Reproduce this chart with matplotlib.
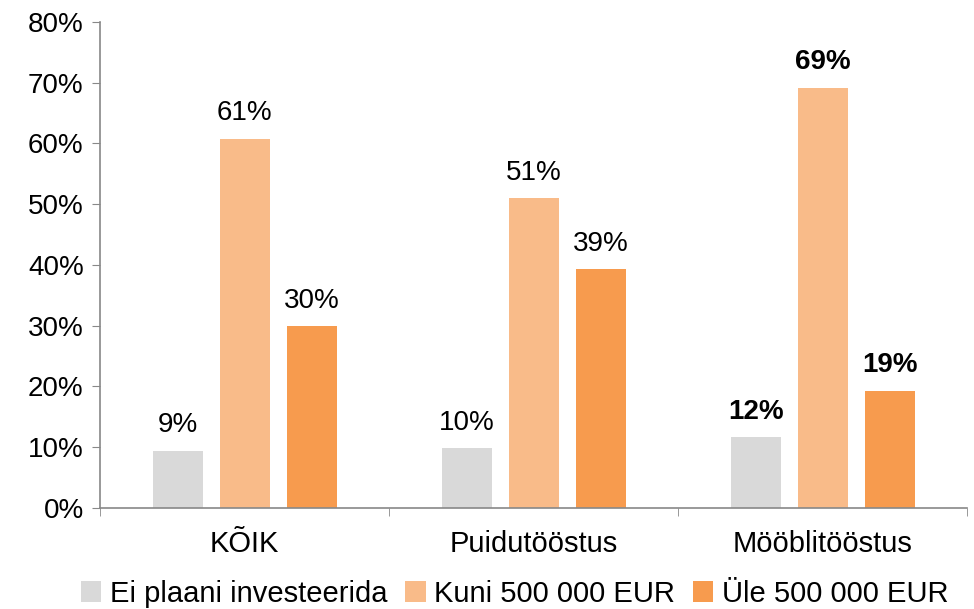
import numpy as np
import matplotlib.pyplot as plt

plt.rcParams['font.family'] = ['Liberation Sans', 'DejaVu Sans']

categories = ['KÕIK', 'Puidutööstus', 'Mööblitööstus']
series_names = ['Ei plaani investeerida', 'Kuni 500 000 EUR', 'Üle 500 000 EUR']
ei_plaani = [9.4, 9.8, 11.6]
kuni_500k = [60.8, 51.0, 69.2]
yle_500k = [29.9, 39.3, 19.3]
labels = [['9%', '10%', '12%'], ['61%', '51%', '69%'], ['30%', '39%', '19%']]
bold_cat = [False, False, True]

colors = ['#D9D9D9', '#F9BB89', '#F79B4E']

fig = plt.figure(figsize=(9.74, 6.09), dpi=100)
ax = fig.add_axes([0.103, 0.166, 0.89, 0.798])

x = np.arange(len(categories))
width = 0.173
step = 0.232
for i, vals in enumerate([ei_plaani, kuni_500k, yle_500k]):
    bars = ax.bar(x + (i - 1) * step, vals, width, color=colors[i], label=series_names[i])
    for j, b in enumerate(bars):
        ax.annotate(labels[i][j], (b.get_x() + b.get_width() / 2, b.get_height()),
                    xytext=(0, 9), textcoords='offset points', ha='center', va='bottom',
                    fontsize=20, fontweight='bold' if bold_cat[j] else 'normal')

ax.set_xlim(-0.5, 2.5)
ax.set_ylim(0, 80)
ax.set_yticks(np.arange(0, 81, 10))
ax.set_yticklabels([f'{v}%' for v in range(0, 81, 10)], fontsize=20)
ax.set_xticks(x)
ax.set_xticklabels(categories, fontsize=21)
ax.set_xticks([-0.5, 0.5, 1.5, 2.5], minor=True)
ax.tick_params(axis='x', which='major', length=0, pad=16)
ax.tick_params(axis='x', which='minor', length=6, color='#888888')
ax.tick_params(axis='y', length=6, color='#888888', pad=6)

for s in ['top', 'right']:
    ax.spines[s].set_visible(False)
for s in ['left', 'bottom']:
    ax.spines[s].set_color('#888888')
    ax.spines[s].set_linewidth(1.2)

ax.legend(loc='upper center', bbox_to_anchor=(0.478, -0.118), ncol=3, frameon=False,
          fontsize=21, handlelength=0.7, handleheight=0.7, handletextpad=0.3,
          columnspacing=0.6, borderpad=0)

fig.savefig('out.png', dpi=100)
